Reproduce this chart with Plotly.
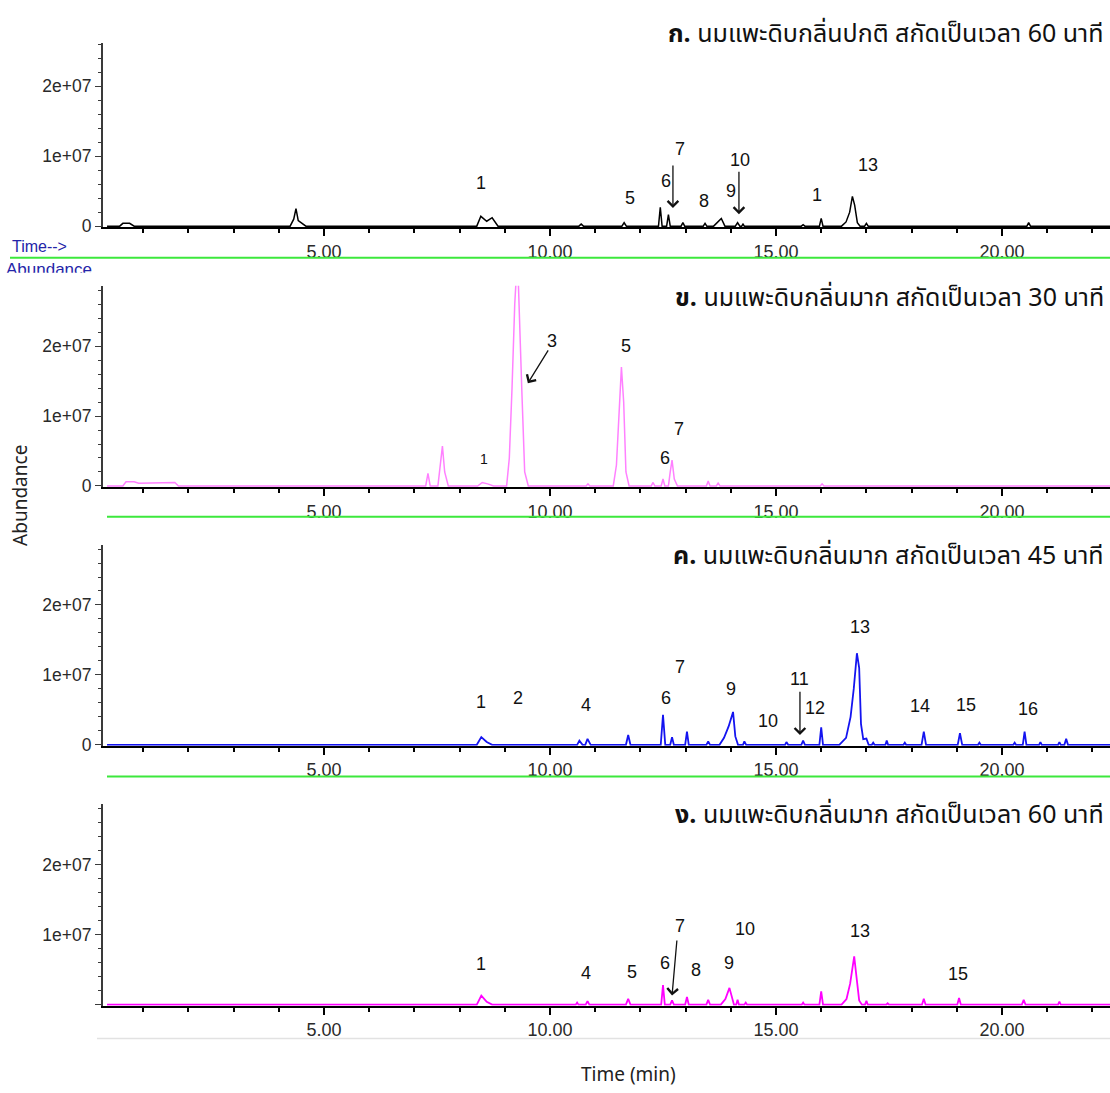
import plotly.graph_objects as go

W, H = 1110, 1093

# ---------------- data ----------------
# Panel ก : normal-odour raw goat milk, 60 min extraction (black)
a_time = [0.2, 0.48, 0.55, 0.7, 0.8,
          4.25, 4.33, 4.38, 4.43, 4.6,
          8.38, 8.47, 8.6, 8.72, 8.85,
          10.64, 10.69, 10.74,
          11.59, 11.64, 11.69,
          12.4, 12.44, 12.48,
          12.58, 12.62, 12.66,
          12.9, 12.94, 12.98,
          13.39, 13.43, 13.47,
          13.62, 13.79, 13.87,
          14.1, 14.15, 14.2, 14.24, 14.27, 14.3,
          15.56, 15.6, 15.64,
          15.96, 16.0, 16.04,
          16.45, 16.55, 16.63, 16.69, 16.74, 16.8, 16.86,
          16.96, 17.0, 17.04,
          20.55, 20.59, 20.63,
          22.5]
a_abund = [0, 0, 4e5, 4e5, 0,
           0, 1.0e6, 2.5e6, 8e5, 0,
           0, 1.4e6, 7e5, 1.2e6, 0,
           0, 3e5, 0,
           0, 5e5, 0,
           0, 2.7e6, 0,
           0, 1.65e6, 0,
           0, 5e5, 0,
           0, 4e5, 0,
           0, 1.1e6, 0,
           0, 5e5, 0, 0, 3e5, 0,
           0, 2e5, 0,
           0, 1.1e6, 0,
           0, 6e5, 2.0e6, 4.25e6, 3.0e6, 5e5, 0,
           0, 4e5, 0,
           0, 5e5, 0,
           0]

# Panel ข : strong-odour raw goat milk, 30 min extraction (pink)
b_time = [0.2, 0.55, 0.62, 0.8, 0.9, 1.5, 1.7, 1.78,
          7.25, 7.3, 7.35,
          7.52, 7.58, 7.62, 7.67, 7.75,
          8.4, 8.5, 8.62, 8.75,
          9.04, 9.1, 9.16, 9.22, 9.28, 9.34, 9.38, 9.44, 9.52,
          10.8, 10.84, 10.88,
          11.4, 11.47, 11.52, 11.58, 11.63, 11.68, 11.75,
          12.24, 12.28, 12.32,
          12.46, 12.5, 12.54,
          12.62, 12.66, 12.7, 12.75, 12.82,
          13.46, 13.5, 13.54,
          13.68, 13.72, 13.76,
          15.98, 16.02, 16.06,
          22.5]
b_abund = [0, 0, 6e5, 6e5, 4e5, 4e5, 5e5, 0,
           0, 1.8e6, 0,
           0, 3.0e6, 5.7e6, 2.0e6, 0,
           0, 5e5, 3e5, 0,
           0, 4e6, 1.4e7, 2.6e7, 3.3e7, 2.0e7, 1.3e7, 2e6, 0,
           0, 3e5, 0,
           0, 3e6, 1.0e7, 1.7e7, 1.2e7, 2e6, 0,
           0, 5e5, 0,
           0, 1.0e6, 0,
           0, 2.0e6, 3.7e6, 1.0e6, 0,
           0, 7e5, 0,
           0, 4e5, 0,
           0, 3e5, 0,
           0]

# Panel ค : strong-odour raw goat milk, 45 min extraction (blue)
c_time = [0.2, 8.38, 8.48, 8.6, 8.72,
          10.6, 10.65, 10.72, 10.78, 10.83, 10.9,
          11.68, 11.73, 11.78,
          12.45, 12.5, 12.55,
          12.66, 12.7, 12.74,
          12.99, 13.03, 13.07,
          13.46, 13.5, 13.54,
          13.75, 13.85, 13.95, 14.05, 14.1, 14.16,
          14.27, 14.3, 14.34,
          15.2, 15.23, 15.27,
          15.56, 15.6, 15.64,
          15.96, 16.0, 16.04,
          16.4, 16.55, 16.65, 16.72, 16.79, 16.84, 16.88, 16.93, 17.0, 17.05,
          17.12, 17.15, 17.18,
          17.42, 17.45, 17.48,
          17.82, 17.85, 17.88,
          18.22, 18.27, 18.32,
          19.02, 19.07, 19.12,
          19.47, 19.5, 19.53,
          20.25, 20.28, 20.31,
          20.46, 20.5, 20.54,
          20.82, 20.85, 20.88,
          21.24, 21.27, 21.3,
          21.38, 21.42, 21.46,
          22.5]
c_abund = [0, 0, 1.1e6, 4e5, 0,
           0, 6e5, 0, 0, 8.5e5, 0,
           0, 1.4e6, 0,
           0, 4.3e6, 0,
           0, 1.1e6, 0,
           0, 1.9e6, 0,
           0, 5e5, 0,
           0, 1.0e6, 2.6e6, 4.7e6, 1.2e6, 0,
           0, 5e5, 0,
           0, 4e5, 0,
           0, 6e5, 0,
           0, 2.5e6, 0,
           0, 1.0e6, 4.0e6, 8.0e6, 1.31e7, 1.1e7, 3.0e6, 8e5, 9e5, 0,
           0, 3e5, 0,
           0, 6e5, 0,
           0, 3e5, 0,
           0, 1.9e6, 0,
           0, 1.65e6, 0,
           0, 3e5, 0,
           0, 3e5, 0,
           0, 1.9e6, 0,
           0, 4e5, 0,
           0, 4e5, 0,
           0, 8.5e5, 0,
           0]

# Panel ง : strong-odour raw goat milk, 60 min extraction (magenta)
d_time = [0.2, 8.38, 8.48, 8.6, 8.72,
          10.57, 10.6, 10.63, 10.79, 10.83, 10.87,
          11.68, 11.73, 11.78,
          12.46, 12.5, 12.54,
          12.66, 12.7, 12.74,
          12.99, 13.03, 13.07,
          13.46, 13.5, 13.54,
          13.78, 13.88, 13.97, 14.02, 14.07,
          14.12, 14.15, 14.18,
          14.3, 14.33, 14.36,
          15.57, 15.6, 15.63,
          15.96, 16.0, 16.04,
          16.45, 16.56, 16.64, 16.73, 16.78, 16.84, 16.9,
          16.97, 17.0, 17.03,
          17.44, 17.47, 17.5,
          18.23, 18.27, 18.31,
          19.01, 19.05, 19.09,
          20.44, 20.48, 20.52,
          21.24, 21.27, 21.3,
          22.5]
d_abund = [0, 0, 1.3e6, 4e5, 0,
           0, 3e5, 0, 0, 5e5, 0,
           0, 8.5e5, 0,
           0, 2.8e6, 0,
           0, 6e5, 0,
           0, 1.1e6, 0,
           0, 7e5, 0,
           0, 8e5, 2.4e6, 1.0e6, 0,
           0, 7e5, 0,
           0, 3e5, 0,
           0, 3e5, 0,
           0, 1.9e6, 0,
           0, 8e5, 3.0e6, 6.9e6, 4.0e6, 6e5, 0,
           0, 5.5e5, 0,
           0, 2e5, 0,
           0, 8.5e5, 0,
           0, 9.5e5, 0,
           0, 7e5, 0,
           0, 4.5e5, 0,
           0]

# peak number labels (time, abundance) per panel
a_lab = ["1", "5", "6", "7", "8", "9", "10", "1", "13"]
a_lab_t = [8.47, 11.77, 12.57, 12.88, 13.41, 14.0, 14.2, 15.91, 17.04]
a_lab_y = [0.61e7, 0.40e7, 0.64e7, 1.11e7, 0.355e7, 0.50e7, 0.94e7, 0.44e7, 0.87e7]
a_arr = [(12.72, 0.89e7, 12.72, 0.26e7), (14.18, 0.80e7, 14.18, 0.17e7)]

b_lab = ["3", "5", "1", "6", "7"]
b_lab_t = [10.04, 11.68, 8.54, 12.54, 12.85]
b_lab_y = [2.07e7, 2.0e7, 0.39e7, 0.40e7, 0.81e7]
b_arr = [(9.98, 1.96e7, 9.51, 1.47e7)]

c_lab = ["1", "2", "4", "6", "7", "9", "10", "11", "12", "13", "14", "15", "16"]
c_lab_t = [8.47, 9.29, 10.8, 12.57, 12.88, 14.0, 14.82, 15.53, 15.86, 16.86, 18.19, 19.2, 20.58]
c_lab_y = [0.61e7, 0.67e7, 0.57e7, 0.67e7, 1.12e7, 0.80e7, 0.34e7, 0.94e7, 0.52e7, 1.69e7, 0.55e7, 0.57e7, 0.51e7]
c_arr = [(15.53, 0.78e7, 15.53, 0.14e7)]

d_lab = ["1", "4", "5", "6", "7", "8", "9", "10", "13", "15"]
d_lab_t = [8.47, 10.8, 11.81, 12.54, 12.88, 13.23, 13.96, 14.31, 16.86, 19.03]
d_lab_y = [0.58e7, 0.45e7, 0.47e7, 0.60e7, 1.12e7, 0.50e7, 0.60e7, 1.08e7, 1.05e7, 0.44e7]
d_arr = [(12.81, 0.94e7, 12.70, 0.13e7)]

panel_letters = ["ก.", "ข.", "ค.", "ง."]
panel_titles = ["นมแพะดิบกลิ่นปกติ สกัดเป็นเวลา 60 นาที",
                "นมแพะดิบกลิ่นมาก สกัดเป็นเวลา 30 นาที",
                "นมแพะดิบกลิ่นมาก สกัดเป็นเวลา 45 นาที",
                "นมแพะดิบกลิ่นมาก สกัดเป็นเวลา 60 นาที"]

x_tickvals = [5, 10, 15, 20]
x_ticktext = ["5.00", "10.00", "15.00", "20.00"]
y_tickvals = [0, 1e7, 2e7]
y_ticktext = ["0", "1e+07", "2e+07"]
y_ticktext_last = ["", "1e+07", "2e+07"]

# ---------------- layout geometry (pixels) ----------------
X_AX_PX = 103
PX_PER_MIN = 45.2
T_REF, T_REF_PX = 5.0, 324
PX_PER_1E7 = 70.5
zero_px = [228, 490, 751, 1013]
top_px = [43, 288, 550, 811]
title_px = [34, 300, 561, 822]
green_px = [(10, 260), (107, 521), (107, 783)]

t_min = T_REF + (X_AX_PX - T_REF_PX) / PX_PER_MIN
t_max = T_REF + (W - T_REF_PX) / PX_PER_MIN

colors = ["#000000", "#ff80ff", "#1414f0", "#ff00ff"]
widths = [1.5, 1.5, 1.8, 1.8]

series = [(a_time, a_abund), (b_time, b_abund), (c_time, c_abund), (d_time, d_abund)]
labels = [(a_lab, a_lab_t, a_lab_y, a_arr), (b_lab, b_lab_t, b_lab_y, b_arr),
          (c_lab, c_lab_t, c_lab_y, c_arr), (d_lab, d_lab_t, d_lab_y, d_arr)]

XTICK_FONT = dict(family="Liberation Sans, Arial, sans-serif", size=18, color="#2a2a2a")
YTICK_FONT = dict(family="Liberation Sans, Arial, sans-serif", size=17.5, color="#2a2a2a")
LAB_FONT = dict(family="Liberation Sans, Arial, sans-serif", size=18, color="#111111")
THAI_FONT = "Noto Sans Thai, Noto Sans Thai UI, Loma, Tahoma, Noto Sans, sans-serif"

fig = go.Figure()
annotations = []
shapes = []

for i in range(4):
    n = "" if i == 0 else str(i + 1)
    xa, ya = "xaxis" + n, "yaxis" + n
    xr, yr = "x" + n, "y" + n
    t, v = series[i]
    fig.add_trace(go.Scatter(x=t, y=v, mode="lines", xaxis=xr, yaxis=yr,
                             line=dict(color=colors[i], width=widths[i]),
                             showlegend=False, hoverinfo="skip"))
    ymin = -1.0 / PX_PER_1E7 * 1e7
    ymax = (zero_px[i] - top_px[i]) / PX_PER_1E7 * 1e7
    dom_y = [1 - (zero_px[i] + 1) / H, 1 - top_px[i] / H]
    fig.update_layout(**{
        xa: dict(domain=[X_AX_PX / W, 1.0], range=[t_min, t_max], anchor=yr,
                 showline=True, linecolor="#000000", linewidth=2,
                 ticks="outside", ticklen=7, tickwidth=1.5, tickcolor="#000000",
                 tickmode="array", tickvals=x_tickvals, ticktext=x_ticktext,
                 tickfont=XTICK_FONT, showgrid=False, zeroline=False,
                 minor=dict(ticks="outside", dtick=1, tick0=0, ticklen=4,
                            tickwidth=1.5, tickcolor="#000000", showgrid=False)),
        ya: dict(domain=dom_y, range=[ymin, ymax], anchor=xr,
                 showline=True, linecolor="#3a3a3a", linewidth=2,
                 ticks="outside", ticklen=6, tickwidth=1.2, tickcolor="#3a3a3a",
                 tickmode="array", tickvals=y_tickvals,
                 ticktext=(y_ticktext_last if i == 3 else y_ticktext),
                 tickfont=YTICK_FONT, showgrid=False, zeroline=False,
                 minor=dict(ticks="outside", dtick=2e6, tick0=0, ticklen=3,
                            tickwidth=1, tickcolor="#3a3a3a", showgrid=False)),
    })
    # panel title
    annotations.append(dict(xref="paper", yref="paper", x=1106 / W, y=1 - title_px[i] / H,
                            xanchor="right", yanchor="middle", showarrow=False,
                            text="<b>" + panel_letters[i] + "</b> " + panel_titles[i],
                            font=dict(family=THAI_FONT, size=25, color="#111111")))
    # peak numbers
    labs, lt, ly, arrs = labels[i]
    for k in range(len(labs)):
        f = dict(LAB_FONT)
        if i == 1 and labs[k] == "1":
            f["size"] = 14
        annotations.append(dict(xref=xr, yref=yr, x=lt[k], y=ly[k], text=labs[k],
                                showarrow=False, xanchor="center", yanchor="middle", font=f))
    for (tt, ty, ht, hy) in arrs:
        annotations.append(dict(xref=xr, yref=yr, x=ht, y=hy, axref=xr, ayref=yr,
                                ax=tt, ay=ty, text="", showarrow=True,
                                arrowhead=4, arrowsize=1.6, arrowwidth=1.3,
                                arrowcolor="#111111"))

# green separator lines
for (x0, y) in green_px:
    shapes.append(dict(type="line", xref="paper", yref="paper", x0=x0 / W, x1=1.0,
                       y0=1 - y / H, y1=1 - y / H, line=dict(color="#3ce83c", width=2)))
# faint bottom edge of the last chromatogram
shapes.append(dict(type="line", xref="paper", yref="paper", x0=97 / W, x1=1.0,
                   y0=1 - 1047 / H, y1=1 - 1047 / H, line=dict(color="#e2e2e2", width=1.5)))

# "Time-->" legacy label
annotations.append(dict(xref="paper", yref="paper", x=10 / W, y=1 - 249 / H,
                        xanchor="left", yanchor="middle", showarrow=False, text="Time-->",
                        font=dict(family="Liberation Sans, Arial, sans-serif", size=16,
                                  color="#2424a8")))

# clipped "Abundance" remnant under the green line (text trace clipped to a tiny axis)
fig.add_trace(go.Scatter(x=[0], y=[-0.75], mode="text", text=["Abundance"],
                         textposition="middle right", cliponaxis=True,
                         textfont=dict(family="Liberation Sans, Arial, sans-serif",
                                       size=17, color="#2424a8"),
                         xaxis="x5", yaxis="y5", showlegend=False, hoverinfo="skip"))
fig.update_layout(
    xaxis5=dict(domain=[6 / W, 140 / W], range=[0, 1], visible=False, anchor="y5"),
    yaxis5=dict(domain=[1 - 275 / H, 1 - 262 / H], range=[-1, 1], visible=False, anchor="x5"),
)

# axis titles
annotations.append(dict(xref="paper", yref="paper", x=20 / W, y=1 - 500 / H,
                        textangle=-90, showarrow=False, text="Abundance",
                        xanchor="center", yanchor="middle",
                        font=dict(family="Noto Sans, Liberation Sans, sans-serif", size=19,
                                  color="#222222")))
annotations.append(dict(xref="paper", yref="paper", x=628 / W, y=1 - 1083 / H,
                        showarrow=False, text="Time (min)", xanchor="center", yanchor="middle",
                        font=dict(family="Noto Sans, Liberation Sans, sans-serif", size=19,
                                  color="#222222")))

fig.update_layout(width=W, height=H, autosize=False,
                  margin=dict(l=0, r=0, t=0, b=0, pad=0),
                  paper_bgcolor="white", plot_bgcolor="white",
                  annotations=annotations, shapes=shapes, showlegend=False)

fig.write_html("out.html", config={"displayModeBar": False},
               post_script=("document.documentElement.style.margin='0';"
                            "document.body.style.margin='0';"
                            "document.documentElement.style.overflow='hidden';"
                            "document.body.style.overflow='hidden';"))
